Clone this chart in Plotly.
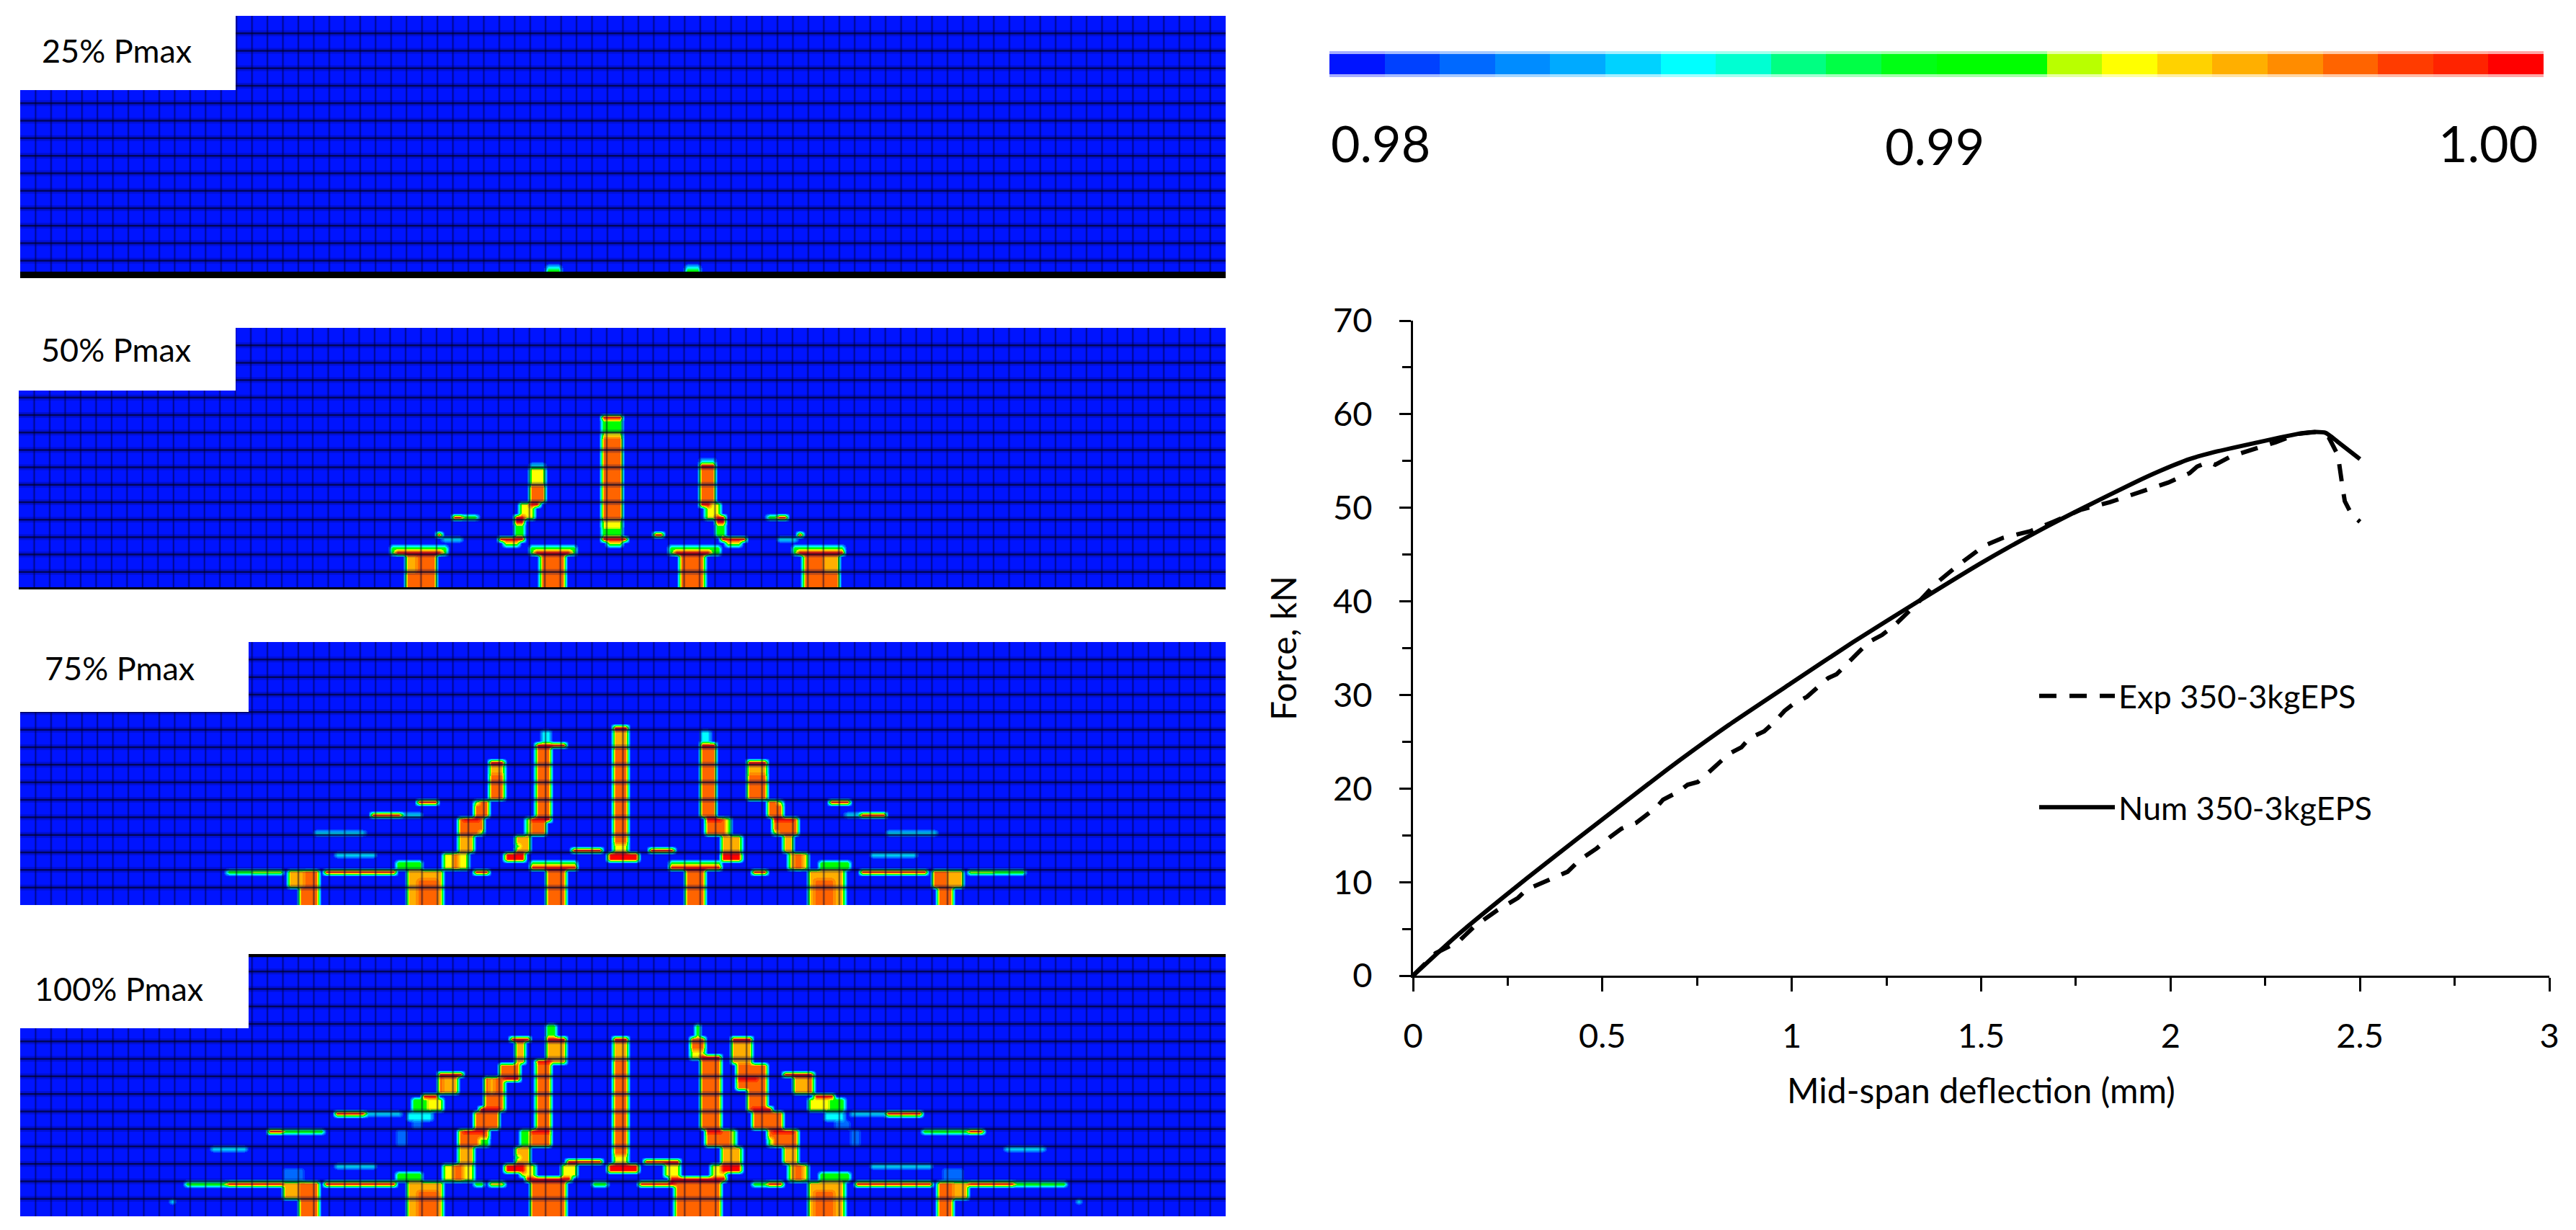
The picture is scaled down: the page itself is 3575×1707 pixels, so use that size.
import plotly.graph_objects as go

W, H = 3575, 1707
FONT = "Lato"

# load-deflection curves
num_x = [0, .1135, .245, .36, .5, .67, .834, 1.0, 1.16, 1.334, 1.5, 1.664, 1.77, 1.9, 1.97, 2.05, 2.11, 2.22, 2.336, 2.383, 2.41, 2.44, 2.5]
num_f = [0, 4.2, 8.6, 12.3, 16.7, 22, 26.8, 31.3, 35.6, 40, 44.1, 47.8, 50, 52.6, 53.9, 55.2, 55.9, 56.9, 57.9, 58.1, 58, 57.1, 55.2]
exp_x = [0, .06, .119, .163, .223, .277, .3, .343, .392, .408, .441, .485, .523, .55, .588, .61, .643, .66, .698, .725, .752, .78, .812, .834, .867, .889, .927, .954, .981, 1.003, 1.04, 1.069, 1.096, 1.118, 1.15, 1.172, 1.205, 1.238, 1.27, 1.3, 1.334, 1.38, 1.44, 1.487, 1.505, 1.558, 1.63, 1.69, 1.764, 1.84, 1.923, 1.994, 2.05, 2.07, 2.1, 2.118, 2.16, 2.218, 2.277, 2.336, 2.383, 2.418, 2.442, 2.454, 2.46, 2.478, 2.5]
exp_f = [0, 2.4, 3.6, 5.3, 7, 8.3, 9.2, 10, 10.8, 11.1, 12.4, 13.6, 14.9, 15.7, 16.3, 17, 18, 18.8, 19.6, 20.4, 20.7, 21.7, 22.9, 23.7, 24.4, 25.4, 26.1, 27.1, 28.3, 29, 29.8, 30.9, 31.8, 32.2, 33.6, 34.4, 35.7, 36.4, 37.4, 38.5, 39.9, 41.9, 43.9, 45.3, 45.9, 46.8, 47.5, 48.5, 49.8, 50.6, 51.7, 52.7, 53.7, 54.4, 54.9, 54.6, 55.5, 56.2, 57, 57.9, 58.1, 57.5, 55.6, 52.2, 50.7, 49.3, 48.5]
x_ticks = [0, .5, 1, 1.5, 2, 2.5, 3]
x_labels = ["0", "0.5", "1", "1.5", "2", "2.5", "3"]
y_ticks = [0, 10, 20, 30, 40, 50, 60, 70]

# contour legend colours, lowest band first
band_colors = ["#0014ff", "#0041ff", "#0069ff", "#008cff", "#00aaff", "#00d2ff", "#00ffff", "#00ffd2", "#00ff82", "#00ff46", "#00ff14", "#00ff00", "#00ff00", "#b9ff00", "#ffff00", "#ffd200", "#ffaf00", "#ff8c00", "#ff6400", "#ff3c00", "#ff2300", "#ff0000"]
band_labels = ["0.98", "0.99", "1.00"]

# contour levels used below
R, O, A, Y, G, C, S = .9995, .9968, .995, .9932, .991, .9858, .9825

# damage patches per load step: col from, col to, row from, row to, value
# columns counted from left of the mesh, rows from the bottom
damage_25 = [
    (34, 35, .35, .6, G), (34, 35, .6, .8, C),
    (43, 44, .35, .6, G), (43, 44, .6, .8, C),
]
damage_50 = [
    # supports
    (23.9, 27.7, 2, 2.4, G), (24.9, 27.1, 0, 2, O), (24.9, 25.8, 1, 2, A), (24.2, 27.5, 1.9, 2.2, R),
    (33, 36, 2, 2.4, G), (33.6, 35.3, 0, 2, O), (33.2, 35.7, 1.9, 2.15, R),
    (42, 45.2, 2, 2.4, G), (42.6, 44.2, 0, 2, O), (42.3, 44.8, 1.9, 2.15, R),
    (50, 53.4, 2, 2.4, G), (50.8, 53, 0, 2, O), (52, 53, 1, 2, A), (50.5, 53.2, 1.9, 2.2, R),
    # centre crack
    (37.8, 39, 3, 3.4, G), (37.8, 39, 3.4, 4, Y), (37.8, 39, 4, 8.8, O), (37.8, 39, 8.8, 9.1, Y), (37.8, 39, 9.1, 9.8, G), (37.8, 39, 9.8, 10.1, R),
    # side cracks
    (32.9, 33.9, 5, 6, O), (32.9, 33.9, 6, 6.9, Y), (32.9, 33.9, 6.9, 7.1, R), (32.9, 33.9, 7.1, 7.3, C),
    (32.3, 33.4, 4.1, 5, Y), (33, 33.6, 4.7, 5.1, R), (32, 32.7, 3, 3.7, G), (32, 32.7, 3.7, 4.2, R),
    (43.9, 45, 5, 7, O), (43.9, 45, 7, 7.2, R), (43.9, 45, 7.2, 7.4, C),
    (44.5, 45.3, 4.1, 5, Y), (44.1, 44.8, 4.7, 5.1, R), (44.9, 45.8, 3, 3.7, G), (44.9, 45.8, 3.7, 4.2, R),
    # short marks
    (28, 28.8, 3.9, 4.15, R), (28.8, 29.8, 3.9, 4.2, G),
    (27, 27.5, 3, 3.2, R), (27.5, 28.8, 2.8, 3.1, C),
    (31, 32.6, 2.8, 3, R), (31.3, 32.3, 2.6, 2.8, Y),
    (37.8, 39.3, 2.75, 3, R), (38, 39, 2.55, 2.75, Y),
    (41, 41.7, 3.05, 3.25, R),
    (45.3, 46.9, 2.8, 3, R), (45.6, 46.6, 2.6, 2.8, Y),
    (49, 50.3, 2.8, 3.1, C), (50.3, 50.8, 3, 3.2, R),
    (48.3, 49, 3.9, 4.2, G), (49, 49.8, 3.9, 4.15, R),
]
damage_75 = [
    # supports
    (17.2, 18.2, 1, 1.9, A), (18.2, 19.4, 1, 1.9, O), (18, 19.2, 0, 1, O),
    (24.3, 26, 2, 2.5, G), (25, 27.4, 0, 2, A), (25.6, 27, 0, 1.5, O),
    (33, 36, 2.2, 2.5, G), (34, 35.3, 0, 1.9, O), (33, 36, 1.9, 2.2, R),
    (43, 44.4, 0, 1.9, O), (42, 45.4, 2.2, 2.5, G), (42, 45.4, 1.9, 2.2, R),
    (51.8, 53.6, 2, 2.5, G), (51, 53.4, 0, 2, A), (51.4, 52.8, 0, 1.5, O),
    (60.1, 61.1, 1, 1.9, A), (59, 60.1, 1, 1.9, O), (59.2, 60.5, 0, 1, O),
    # line of red along the support tops
    (19.7, 24.3, 1.75, 2, R), (54.3, 58.7, 1.75, 2, R),
    (13.3, 15, 1.75, 2, G), (15, 17.1, 1.75, 2, Y), (61.5, 63, 1.75, 2, Y), (63, 65, 1.75, 2, G),
    (29.2, 30.2, 1.75, 2, R), (47.5, 48.5, 1.75, 2, R),
    # centre crack
    (38.2, 39.2, 2.9, 3.4, Y), (38.2, 39.2, 3.4, 9, O), (38.2, 39.2, 9, 9.9, A), (38.2, 39.2, 9.9, 10.2, R),
    (37.9, 40, 2.6, 2.9, R),
    # inner left crack
    (33.7, 34.3, 9.2, 10.1, C), (33.3, 35.3, 8.9, 9.2, R), (33.3, 34.3, 4.9, 8.9, O),
    (32.6, 33, 3.9, 4.9, G), (33, 34, 3.9, 4.9, O), (33.1, 34.2, 4.8, 5.05, R), (31.9, 33, 3, 3.9, A), (32, 32.5, 3.3, 3.6, G), (31.5, 32.8, 2.6, 2.95, R),
    # outer left crack
    (30.2, 31.5, 8, 8.2, R), (30.2, 31.5, 7.4, 8, A), (30.2, 31.5, 6, 7.4, O),
    (29.2, 30.5, 4.9, 6, O), (29.2, 29.6, 5.8, 6.1, G), (28.3, 30, 3.9, 4.9, O), (29.7, 30, 3.9, 4.3, G), (28.6, 29.8, 4.8, 5.05, R),
    (28.3, 29.3, 3, 3.9, A), (27.4, 28.9, 2, 3, Y), (27.9, 28.5, 2, 3, O),
    # short left marks
    (25.6, 27.1, 5.8, 6.1, R), (22.8, 24.8, 5, 5.25, R), (24.8, 26, 5, 5.25, C),
    (19, 22.3, 3.9, 4.2, C), (20, 21, 3.9, 4.1, G), (20.5, 23, 2.7, 2.95, C),
    # arch between inner cracks
    (35.6, 37.6, 2.95, 3.2, R), (40.7, 42.5, 2.95, 3.2, R),
    # inner right crack
    (44.1, 44.7, 9.2, 10.1, C), (44, 45.1, 8.9, 9.2, R), (44, 45.1, 4.9, 8.9, O),
    (45.6, 46, 3.9, 4.9, G), (44.3, 45.6, 3.9, 4.9, O), (44.2, 45.3, 4.8, 5.05, R), (45.3, 46.6, 3, 3.9, A), (45.5, 46.6, 2.6, 2.95, R),
    # outer right crack
    (47, 48.3, 8, 8.2, R), (47, 48.3, 7.4, 8, A), (47, 48.3, 6, 7.4, O),
    (48.2, 49.2, 4.9, 6, O), (48.9, 49.2, 5.8, 6.1, G), (48.7, 50.2, 3.9, 4.9, O), (48.7, 49, 3.9, 4.3, G), (48.7, 49.9, 4.8, 5.05, R),
    (49.2, 50.1, 3, 3.9, A), (49.7, 51, 2, 3, Y), (50.1, 50.6, 2, 3, O),
    # short right marks
    (52.2, 53.7, 5.8, 6.1, R), (53.5, 54.5, 5, 5.25, C), (54.5, 56.1, 5, 5.25, R),
    (56.1, 59.4, 3.9, 4.2, C), (57.2, 58.2, 3.9, 4.1, G), (55, 57.9, 2.7, 2.95, C),
]
damage_100 = [
    # supports
    (17.1, 18.1, 1, 1.9, A), (18.1, 19.4, 1, 1.9, O), (17.9, 19.2, 0, 1, O),
    (24.3, 26, 2, 2.4, G), (25, 27.4, 0, 2, A), (25.6, 27, 0, 1.5, O),
    (33, 35.3, 0, 2, O), (32.8, 35.8, 2, 2.25, R), (32.5, 33.5, 2.25, 2.9, Y), (35, 36, 2.25, 2.9, Y),
    (42.2, 45.4, 0, 2, O), (42, 45.6, 2, 2.25, R), (41.8, 42.8, 2.25, 2.9, Y), (44.8, 45.8, 2.25, 2.9, Y),
    (51.8, 53.7, 2, 2.4, G), (51, 53.4, 0, 2, A), (51.4, 52.8, 0, 1.5, O),
    (60.2, 61.3, 1, 1.9, A), (59.2, 60.2, 1, 1.9, O), (59.2, 60.5, 0, 1, O),
    # line of red along the support tops
    (10.7, 13.5, 1.7, 1.95, G), (13.5, 16.9, 1.7, 1.95, R), (19.7, 24.3, 1.7, 1.95, R),
    (29.4, 30, 1.7, 1.95, G), (30.4, 31.2, 1.7, 1.95, A), (37, 38, 1.7, 1.95, G),
    (40, 42.3, 1.7, 1.95, R), (47.4, 48.2, 1.7, 1.95, G), (48.5, 49.2, 1.7, 1.95, R),
    (54, 59, 1.7, 1.95, R), (61.5, 64.5, 1.7, 1.95, R), (64.5, 67.6, 1.7, 1.95, G),
    # centre crack
    (38.2, 39.2, 2.95, 3.5, Y), (38.2, 39.2, 3.5, 9, O), (38.2, 39.2, 9, 9.9, A), (38.2, 39.2, 9.9, 10.15, R),
    (37.9, 40, 2.6, 2.95, R), (38.2, 39.8, 2.4, 2.6, C),
    # inner left crack
    (34, 34.6, 10.15, 11, G), (34, 35.2, 8.85, 10, A), (34, 35.2, 9.9, 10.15, R), (33.3, 34.3, 8.7, 8.95, R),
    (33.3, 34.2, 5, 8.7, O), (32.5, 33, 3.9, 5, G), (33, 34.2, 3.9, 5, O), (33.1, 34.2, 4.85, 5.1, R),
    (31.9, 33, 3, 3.9, A), (32.1, 32.5, 3.2, 3.6, G), (31.5, 32.8, 2.6, 2.95, R),
    # outer left crack
    (31.7, 33, 9.9, 10.15, R), (31.9, 32.8, 8.85, 9.9, A), (31, 32.3, 7.9, 8.85, O), (31, 32.3, 7.8, 8, R),
    (30, 31.5, 6, 7.9, O), (30.2, 30.8, 7, 7.9, A), (29.2, 31, 4.9, 6, O), (29.6, 31, 5.9, 6.15, R), (28.2, 30.2, 3.9, 4.9, O), (29.7, 30.2, 3.9, 4.4, G), (28.6, 30, 4.8, 5.05, R),
    (28.3, 29.3, 3, 3.9, A), (27.3, 29.2, 2, 2.9, Y), (27.9, 28.6, 2, 2.9, O),
    # outermost left crack
    (26.9, 28.8, 8, 8.25, R), (26.9, 27.4, 7, 8, O), (27.4, 28.4, 7, 8, A),
    (25.9, 27.1, 6.75, 7, R), (25.3, 26.2, 6, 6.75, G), (26.2, 27.4, 6, 6.75, Y),
    (25, 26.6, 5.4, 6, C), (25.3, 26, 5, 5.4, S), (24.2, 25, 4, 4.9, S),
    # short left marks
    (20.2, 22.5, 5.8, 6.1, R), (22.5, 24.8, 5.8, 6.05, C),
    (16.1, 17, 4.85, 5.1, R), (17, 19.7, 4.85, 5.1, G), (12.3, 14.6, 3.85, 4.05, C),
    (17.1, 18.5, 2, 2.8, S), (20.2, 23, 2.65, 2.9, C), (9.7, 10, .75, 1, C),
    # arch between inner cracks
    (35.3, 37.6, 2.9, 3.15, R), (40.5, 42.8, 2.9, 3.15, R),
    # inner right crack
    (43.6, 44.1, 10.2, 10.9, G), (43.3, 44.3, 9.1, 10.2, Y), (43.5, 44.3, 9.5, 10.2, O), (44, 45.2, 5, 9.1, O), (44, 45.2, 8.9, 9.15, R),
    (45.9, 46.4, 3.9, 5, G), (44.3, 45.9, 3.9, 5, O), (44.3, 45.4, 4.85, 5.1, R), (45.3, 46.6, 3, 3.9, A), (45.5, 46.8, 2.6, 2.95, R),
    # outer right crack
    (45.9, 47.2, 9.9, 10.15, R), (46.1, 47.4, 8.85, 9.9, A), (46.4, 48.2, 7.2, 8.85, O), (46.5, 47.8, 7.8, 8, R),
    (47.1, 48.4, 6, 7.2, O), (47.4, 49.4, 4.9, 6, O), (47.4, 48.8, 5.9, 6.15, R), (48.2, 50.2, 3.9, 4.9, O), (48.2, 48.7, 3.9, 4.4, G), (48.6, 50, 4.8, 5.05, R),
    (49.2, 50.2, 2.9, 3.9, A), (49.7, 51, 2, 2.9, Y), (50, 50.6, 2, 2.9, O),
    # outermost right crack
    (49.5, 51.3, 8, 8.25, R), (50.1, 51, 7, 8, A), (51, 51.5, 7, 8, O),
    (51.3, 52.8, 6.75, 7, R), (51, 52.2, 6, 6.75, Y), (52.2, 53.3, 6, 6.75, G),
    (51.9, 53.5, 5.4, 6, C), (52.8, 53.6, 5, 5.4, S), (53.6, 54.4, 4, 4.9, S),
    # short right marks
    (53.8, 56, 5.8, 6.05, C), (56, 58.2, 5.8, 6.1, R),
    (58.2, 61.3, 4.85, 5.1, G), (61.3, 62.3, 4.85, 5.1, R), (63.8, 66.3, 3.85, 4.05, C),
    (59.6, 61, 2, 2.8, S), (55, 59, 2.65, 2.9, C), (68.4, 68.7, .75, 1, C),
]

panel_names = ["25% Pmax", "50% Pmax", "75% Pmax", "100% Pmax"]
panel_damage = [damage_25, damage_50, damage_75, damage_100]

# layout in pixels, (left, top, right, bottom)
panel_box = [(28, 22, 1701, 386), (26, 455, 1701, 818), (28, 891, 1701, 1256), (28, 1324, 1701, 1688)]
notch_box = [(0, 22, 327, 125), (0, 455, 327, 542), (0, 891, 345, 988), (0, 1324, 345, 1427)]
label_pos = [(56, 70), (55, 485), (60, 927), (46, 1372)]
edge_band = [(0, .37), (0, .12), None, (14.82, 15)]
N_COLS, N_ROWS = 78, 15
SUB_X, SUB_Y = 3, 4


def fx(px):
    return px / W


def fy(py):
    return 1 - py / H


def damage_grid(patches):
    xs = [(i + .5) / SUB_X for i in range(N_COLS * SUB_X)]
    ys = [(j + .5) / SUB_Y for j in range(N_ROWS * SUB_Y)]
    z = [[.98] * len(xs) for _ in ys]
    for c0, c1, r0, r1, v in patches:
        for j, y in enumerate(ys):
            if r0 <= y < r1:
                for i, x in enumerate(xs):
                    if c0 <= x < c1:
                        z[j][i] = v
    return xs, ys, z


def mesh_lines(horizontal):
    a, b = [], []
    if horizontal:
        for r in range(1, N_ROWS):
            a += [0, N_COLS, None]
            b += [r, r, None]
    else:
        for c in range(1, N_COLS):
            a += [c, c, None]
            b += [0, N_ROWS, None]
    return a, b


# discrete colour scale
colorscale = []
for i, c in enumerate(band_colors):
    colorscale.append([i / len(band_colors), c])
    colorscale.append([(i + 1) / len(band_colors), c])

fig = go.Figure()
layout = dict(
    width=W, height=H, autosize=False, margin=dict(l=0, r=0, t=0, b=0),
    paper_bgcolor="white", plot_bgcolor="white", font=dict(family=FONT, color="black"),
)
shapes = []
annotations = []

for n, patches in enumerate(panel_damage):
    k = n + 2
    xa, ya = "x%d" % k, "y%d" % k
    l, t, r, b = panel_box[n]
    layout["xaxis%d" % k] = dict(domain=[fx(l), fx(r)], range=[0, N_COLS], visible=False, anchor=ya, fixedrange=True, automargin=False)
    layout["yaxis%d" % k] = dict(domain=[fy(b), fy(t)], range=[0, N_ROWS], visible=False, anchor=xa, fixedrange=True, automargin=False)
    xs, ys, z = damage_grid(patches)
    fig.add_trace(go.Heatmap(x=xs, y=ys, z=z, xaxis=xa, yaxis=ya, zmin=.98, zmax=1, zsmooth="best",
                             colorscale=colorscale, showscale=False, hoverinfo="skip"))
    vx, vy = mesh_lines(False)
    hx, hy = mesh_lines(True)
    for lx, ly, wd, col in [(vx, vy, 4, "rgba(0,0,90,0.15)"), (vx, vy, 1.5, "rgba(0,0,40,0.5)"),
                            (hx, hy, 8, "rgba(0,0,90,0.25)"), (hx, hy, 2.5, "rgba(0,0,30,0.65)")]:
        fig.add_trace(go.Scatter(x=lx, y=ly, xaxis=xa, yaxis=ya, mode="lines", line=dict(color=col, width=wd),
                                 showlegend=False, hoverinfo="skip"))
    if edge_band[n]:
        shapes.append(dict(type="rect", xref=xa, yref=ya, x0=0, x1=N_COLS, y0=edge_band[n][0], y1=edge_band[n][1],
                           fillcolor="black", line_width=0))
    nl, nt, nr, nb = notch_box[n]
    shapes.append(dict(type="rect", xref="paper", yref="paper", x0=fx(nl), x1=fx(nr), y0=fy(nb), y1=fy(nt),
                       fillcolor="white", line_width=0))
    annotations.append(dict(text=panel_names[n], xref="paper", yref="paper", x=fx(label_pos[n][0]), y=fy(label_pos[n][1]),
                            xanchor="left", yanchor="middle", showarrow=False, font=dict(size=45, family=FONT)))

# contour legend bar
layout["xaxis6"] = dict(domain=[fx(1845), fx(3530)], range=[0, len(band_colors)], visible=False, anchor="y6", fixedrange=True, automargin=False)
layout["yaxis6"] = dict(domain=[fy(107), fy(71)], range=[0, 1], visible=False, anchor="x6", fixedrange=True, automargin=False)
fig.add_trace(go.Heatmap(x=[i + .5 for i in range(len(band_colors))], y=[.5],
                         z=[[(i + .5) / len(band_colors) * .02 + .98 for i in range(len(band_colors))]],
                         xaxis="x6", yaxis="y6", zmin=.98, zmax=1, colorscale=colorscale, showscale=False, hoverinfo="skip"))
for y0, y1 in [(71, 75), (103, 107)]:
    shapes.append(dict(type="rect", xref="paper", yref="paper", x0=fx(1845), x1=fx(3530), y0=fy(y1), y1=fy(y0),
                       fillcolor="rgba(255,255,255,0.65)", line_width=0))
for txt, px, py in zip(band_labels, [1916, 2685, 3453], [198, 202, 198]):
    annotations.append(dict(text=txt, xref="paper", yref="paper", x=fx(px), y=fy(py), xanchor="center", yanchor="middle",
                            showarrow=False, font=dict(size=70, family=FONT)))

# force-deflection chart
fig.add_trace(go.Scatter(x=exp_x, y=exp_f, name="Exp 350-3kgEPS", mode="lines", legendgroup="exp",
                         line=dict(color="black", width=6, dash="24px,18px")))
fig.add_trace(go.Scatter(x=num_x, y=num_f, name="Num 350-3kgEPS", mode="lines", legendgroup="num",
                         line=dict(color="black", width=6, shape="spline", smoothing=.5)))
axis_style = dict(showgrid=False, zeroline=False, showline=True, linecolor="black", linewidth=3, ticks="outside",
                  tickcolor="black", tickwidth=3, tickfont=dict(size=47, family=FONT), fixedrange=True, automargin=False)
layout["xaxis"] = dict(axis_style, domain=[fx(1961), fx(3538)], range=[0, 3], anchor="y", tickvals=x_ticks, ticktext=x_labels,
                       ticklen=19, ticklabelstandoff=22, minor=dict(tick0=0, dtick=.25, ticks="outside", ticklen=11, tickwidth=3, tickcolor="black"),
                       title=dict(text="Mid-span deflection (mm)", font=dict(size=48, family=FONT), standoff=34))
layout["yaxis"] = dict(axis_style, domain=[fy(1354), fy(445)], range=[0, 70], anchor="x", tickvals=y_ticks,
                       ticklen=16, ticklabelstandoff=28, minor=dict(tick0=0, dtick=5, ticks="outside", ticklen=12, tickwidth=3, tickcolor="black"),
                       title=dict(text="Force, kN", font=dict(size=48, family=FONT), standoff=36))
layout["legend"] = dict(x=fx(2825), y=fy(930), xanchor="left", yanchor="top", bgcolor="rgba(0,0,0,0)", itemwidth=105,
                        tracegroupgap=93, font=dict(size=45, family=FONT))
layout["shapes"] = shapes
layout["annotations"] = annotations
fig.update_layout(**layout)

fig.write_html("out.html", config={"displayModeBar": False}, post_script="document.body.style.margin='0';")
